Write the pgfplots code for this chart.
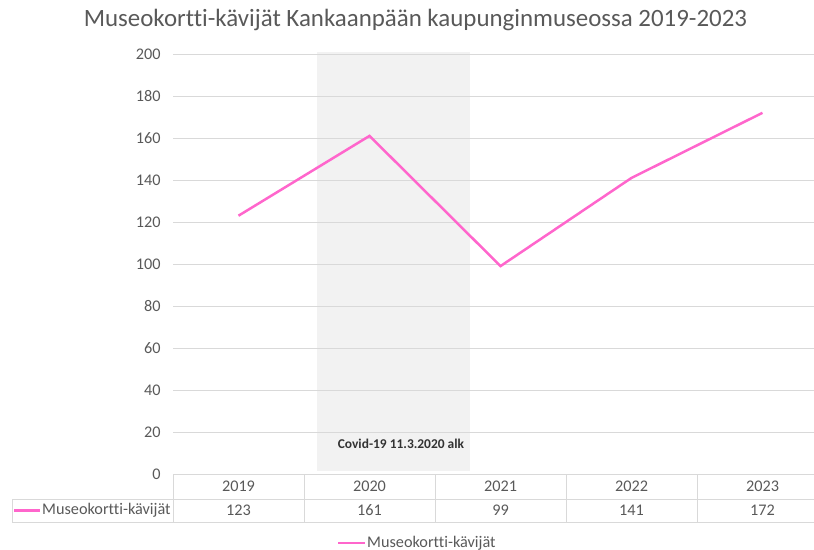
\documentclass[border=0pt]{standalone}
\usepackage{pgfplots}
\pgfplotsset{compat=1.18}
\usepackage{fontspec}
\setmainfont{Carlito}[Ligatures={NoCommon}]
\definecolor{pinkline}{RGB}{255,102,204}
\definecolor{gridc}{RGB}{217,217,217}
\definecolor{txt}{RGB}{89,89,89}
\definecolor{shade}{RGB}{242,242,242}
\begin{document}
\begin{tikzpicture}[x=1bp,y=1bp]
\begin{axis}[
 set layers,
 at={(173bp,-474bp)}, anchor=south west,
 scale only axis, width=655bp, height=420bp,
 xmin=-0.5, xmax=4.5, ymin=0, ymax=200,
 axis line style={draw=none},
 major tick length=0pt,
 ytick={0,20,...,200},
 ymajorgrids, grid style={gridc, line width=0.8bp},
 xtick={0,...,4}, xticklabels={2019,2020,2021,2022,2023},
 xticklabel style={anchor=center, yshift=-12.5bp},
 ticklabel style={font=\fontsize{16.3}{19}\selectfont, text=txt},
 /pgf/number format/assume math mode=true,
 yticklabel style={xshift=-9bp},
 clip=false,
]
\addplot[on layer=axis background, fill=shade, draw=none] coordinates {(0.6,1.4) (1.767,1.4) (1.767,201) (0.6,201)} --cycle;
\addplot[pinkline, line width=2.5bp, mark=none] coordinates {(0,123) (1,161) (2,99) (3,141) (4,172)};
\node[font=\bfseries\fontsize{13.5}{15}\selectfont, text=black!80] at (axis cs:1.24,14.3) {Covid-19 11.3.2020 alk};
\node[font=\fontsize{16.3}{19}\selectfont, text=txt] at (axis cs:0,0) [yshift=-36.5bp] {123};
\node[font=\fontsize{16.3}{19}\selectfont, text=txt] at (axis cs:1,0) [yshift=-36.5bp] {161};
\node[font=\fontsize{16.3}{19}\selectfont, text=txt] at (axis cs:2,0) [yshift=-36.5bp] {99};
\node[font=\fontsize{16.3}{19}\selectfont, text=txt] at (axis cs:3,0) [yshift=-36.5bp] {141};
\node[font=\fontsize{16.3}{19}\selectfont, text=txt] at (axis cs:4,0) [yshift=-36.5bp] {172};
\end{axis}
\draw[gridc, line width=0.8bp] (173,-474) -- (828,-474) (12,-499) -- (828,-499) (12,-522) -- (828,-522)
  (12,-499) -- (12,-522) (173,-474) -- (173,-522) (304,-474) -- (304,-522) (435,-474) -- (435,-522)
  (566,-474) -- (566,-522) (697,-474) -- (697,-522);
\draw[pinkline, line width=2.5bp] (14,-510.5) -- (40,-510.5);
\node[anchor=west, inner sep=1bp, font=\fontsize{16.3}{19}\selectfont, text=txt] at (41,-510.5) {Museokortti-kävijät};
\draw[pinkline, line width=2.5bp] (338,-543) -- (365,-543);
\node[anchor=west, inner sep=1bp, font=\fontsize{16.3}{19}\selectfont, text=txt] at (366,-543) {Museokortti-kävijät};
\node[font=\fontsize{25}{30}\selectfont, text=txt] at (415.5,-20) {Museokortti-kävijät Kankaanpään kaupunginmuseossa 2019-2023};
\pgfresetboundingbox
\useasboundingbox (0,0) rectangle (814,-550);
\end{tikzpicture}
\end{document}
